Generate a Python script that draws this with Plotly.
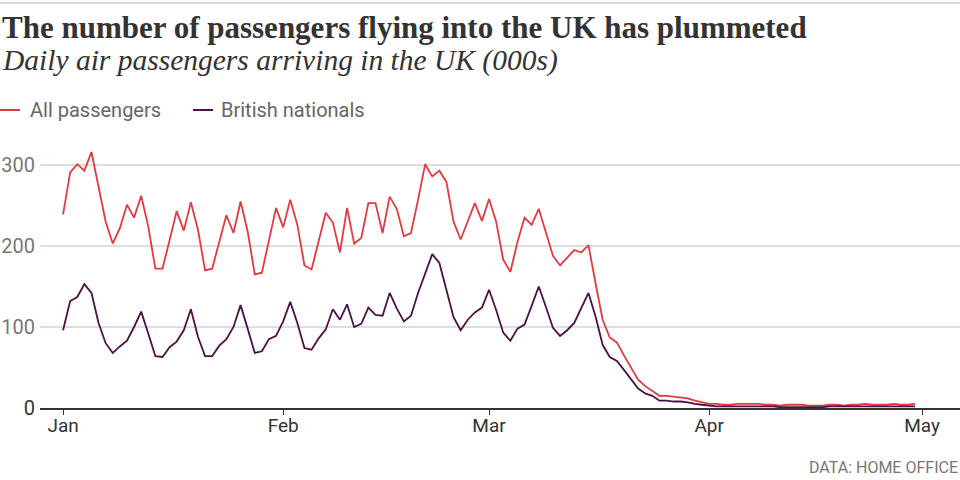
import pandas as pd
import plotly.graph_objects as go

dates = pd.date_range("2020-01-01", "2020-04-30", freq="D")

all_passengers = [
    239, 291, 301, 293, 316, 273, 230, 203, 222, 251,
    235, 262, 224, 172, 172, 207, 243, 219, 254, 220,
    170, 172, 205, 238, 216, 255, 218, 165, 167, 207,
    247, 223, 257, 226, 176, 171, 205, 241, 229, 192,
    247, 203, 210, 253, 253, 216, 261, 246, 212, 216,
    257, 301, 286, 293, 279, 230, 208, 231, 253, 231,
    258, 230, 183, 168, 205, 235, 226, 246, 216, 188,
    176, 185, 195, 192, 201, 154, 109, 87, 81, 65,
    50, 35, 27, 21, 15, 15, 14, 13, 12, 9,
    7, 5, 5, 4, 4, 5, 5, 5, 5, 4,
    4, 3, 4, 4, 4, 3, 3, 3, 4, 4,
    3, 4, 4, 5, 4, 4, 4, 5, 4, 4, 5,
]
british_nationals = [
    96, 132, 137, 153, 142, 105, 80, 68, 76, 83,
    100, 119, 92, 64, 63, 75, 82, 96, 122, 88,
    64, 64, 77, 85, 100, 127, 98, 68, 70, 85,
    89, 107, 131, 105, 74, 72, 86, 97, 122, 109,
    128, 100, 104, 124, 115, 114, 142, 123, 107, 114,
    142, 167, 190, 179, 146, 112, 96, 109, 118, 124,
    146, 121, 93, 83, 98, 103, 126, 150, 125, 99,
    89, 96, 105, 124, 142, 113, 78, 63, 58, 47,
    35, 24, 18, 15, 9, 9, 8, 8, 7, 5,
    4, 3, 2, 2, 2, 2, 2, 2, 2, 2,
    2, 1, 1, 1, 1, 1, 1, 1, 2, 2,
    2, 2, 2, 2, 2, 2, 2, 2, 2, 2, 2,
]

x_tick_vals = ["2020-01-01", "2020-02-01", "2020-03-01", "2020-04-01", "2020-05-01"]
x_tick_text = ["Jan", "Feb", "Mar", "Apr", "May"]
y_tick_vals = [0, 100, 200, 300]
y_tick_text = ["<span style='color:#333'>0</span>", "100", "200", "300"]

series_names = ["All passengers", "British nationals"]
series_colors = ["#e3393f", "#4e1045"]

W, H = 960, 480
ML, MR, MT, MB = 40, 0, 140, 72
PW, PH = W - ML - MR, H - MT - MB


def px_x(px):
    return (px - ML) / PW


def px_y(py):
    return (H - MB - py) / PH


fig = go.Figure()
for name, vals, col in zip(series_names, [all_passengers, british_nationals], series_colors):
    fig.add_trace(go.Scatter(x=dates, y=vals, mode="lines", name=name,
                             line=dict(color=col, width=1.8), showlegend=False))

annotations = [
    dict(text="<b>The number of passengers flying into the UK has plummeted</b>",
         x=px_x(0), y=px_y(27), xref="paper", yref="paper", xanchor="left", yanchor="middle",
         showarrow=False, font=dict(family="Liberation Serif", size=31, color="#333")),
    dict(text="<i>Daily air passengers arriving in the UK (000s)</i>",
         x=px_x(0), y=px_y(60), xref="paper", yref="paper", xanchor="left", yanchor="middle",
         showarrow=False, font=dict(family="Liberation Serif", size=29.5, color="#333")),
    dict(text="DATA: HOME OFFICE", x=px_x(960), y=px_y(467), xref="paper", yref="paper",
         xanchor="right", yanchor="middle", showarrow=False,
         font=dict(family="Roboto", size=16, color="#777")),
]
shapes = [
    dict(type="line", xref="paper", yref="paper", x0=px_x(0), x1=px_x(960),
         y0=px_y(3), y1=px_y(3), line=dict(color="#d9d9d9", width=2)),
]
legend_pos = [(0, 28), (193, 219)]
for (lx, tx), name, col in zip(legend_pos, series_names, series_colors):
    shapes.append(dict(type="line", xref="paper", yref="paper", x0=px_x(lx), x1=px_x(lx + 20),
                       y0=px_y(110), y1=px_y(110), line=dict(color=col, width=2)))
    annotations.append(dict(text=name, x=px_x(tx), y=px_y(110), xref="paper", yref="paper",
                            xanchor="left", yanchor="middle", showarrow=False,
                            font=dict(family="Roboto", size=20, color="#666")))

fig.update_layout(
    width=W, height=H,
    margin=dict(l=ML, r=MR, t=MT, b=MB),
    paper_bgcolor="white", plot_bgcolor="white",
    showlegend=False,
    annotations=annotations, shapes=shapes,
    xaxis=dict(range=["2019-12-28 18:00", "2020-05-06 08:00"], tickvals=x_tick_vals,
               ticktext=x_tick_text, showgrid=False, zeroline=False,
               ticks="outside", ticklen=5, tickcolor="#333", tickwidth=1,
               showline=True, linecolor="#333", linewidth=1.5, ticklabelstandoff=-6,
               tickfont=dict(family="Roboto", size=19, color="#333")),
    yaxis=dict(range=[0, PH / 0.81], tickvals=y_tick_vals, ticktext=y_tick_text,
               showgrid=True, gridcolor="#dedede", gridwidth=2, zeroline=False,
               showline=False, ticks="", ticklabelstandoff=4,
               tickfont=dict(family="Roboto", size=20, color="#777")),
)

fig.write_html("out.html", config={"displayModeBar": False},
               post_script="document.body.style.margin='0';document.body.style.overflow='hidden';")
